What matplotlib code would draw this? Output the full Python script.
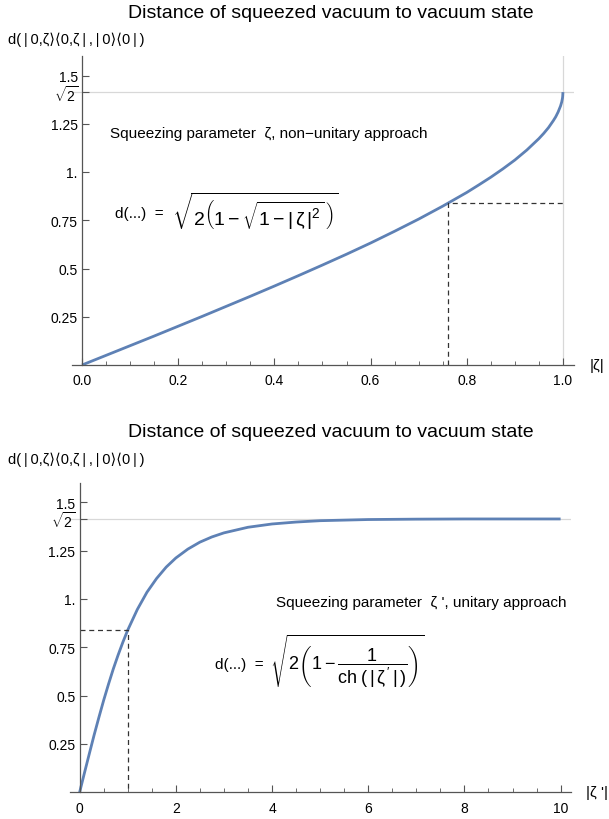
import matplotlib
matplotlib.use("Agg")
import matplotlib.pyplot as plt
from matplotlib.ticker import MultipleLocator

plt.rcParams["font.family"] = ["Liberation Sans", "DejaVu Sans"]
plt.rcParams["mathtext.fontset"] = "custom"
plt.rcParams["mathtext.rm"] = "Liberation Sans"
plt.rcParams["mathtext.it"] = "Liberation Sans"
plt.rcParams["mathtext.bf"] = "Liberation Sans:bold"

# top panel: non-unitary approach, |zeta| in [0, 1]
zeta = [0, 0.05, 0.1, 0.15, 0.2, 0.25, 0.3, 0.35, 0.4, 0.45, 0.5, 0.55, 0.6, 0.65,
        0.7, 0.75, 0.8, 0.825, 0.85, 0.875, 0.9, 0.925, 0.95, 0.96, 0.97, 0.98, 0.985,
        0.99, 0.995, 0.9975, 0.999, 0.9995, 1.0]
d_top = [0, 0.050, 0.100, 0.150, 0.201, 0.252, 0.304, 0.356, 0.409, 0.463, 0.518, 0.574, 0.632, 0.693,
         0.756, 0.823, 0.894, 0.933, 0.973, 1.016, 1.062, 1.114, 1.173, 1.200, 1.230, 1.266, 1.286,
         1.311, 1.342, 1.363, 1.382, 1.392, 1.414]
# bottom panel: unitary approach, |zeta'| in [0, 10]
zeta_p = [0, 0.1, 0.2, 0.3, 0.4, 0.5, 0.6, 0.7, 0.8, 0.9, 1.0, 1.2, 1.4, 1.6, 1.8, 2.0, 2.25, 2.5,
          2.75, 3.0, 3.5, 4.0, 4.5, 5.0, 5.5, 6, 7, 8, 9, 10]
d_bot = [0, 0.100, 0.198, 0.295, 0.387, 0.476, 0.559, 0.638, 0.710, 0.777, 0.839, 0.946, 1.035,
         1.106, 1.165, 1.212, 1.258, 1.294, 1.321, 1.342, 1.371, 1.388, 1.398, 1.405, 1.408,
         1.411, 1.413, 1.414, 1.414, 1.414]
# marked point (tanh 1 -> 1)
mark_top = (0.7616, 0.839)
mark_bot = (1.0, 0.839)

SQ2 = 2 ** 0.5
YT = [0.25, 0.5, 0.75, 1.0, 1.25, SQ2, 1.5]
YL = ["0.25", "0.5", "0.75", "1.", "1.25", r"$\sqrt{2}$", "1.5"]
BLUE = "#5e81b5"
AXC = "#555555"
TITLE = "Distance of squeezed vacuum to vacuum state"
t = "\u2009"
YLAB = f"d({t}|{t}0,ζ⟩⟨0,ζ{t}|{t},{t}|{t}0⟩⟨0{t}|{t})"

fig = plt.figure(figsize=(6.09, 8.20), dpi=100)
W, H = 609, 820

def setup(ax, xlim, major, minor, xlab, xfmt):
    ax.set_xlim(*xlim); ax.set_ylim(0, 1.6)
    for s in ("top", "right"):
        ax.spines[s].set_visible(False)
    ax.spines["left"].set_position(("data", 0))
    for s in ("left", "bottom"):
        ax.spines[s].set_color(AXC); ax.spines[s].set_linewidth(0.9)
    n = int(round(xlim[1] / major)) + 1
    ax.set_xticks([i * major for i in range(n)])
    ax.set_xticklabels([xfmt(i * major) for i in range(n)])
    ax.xaxis.set_minor_locator(MultipleLocator(minor))
    ax.set_yticks(YT); ax.set_yticklabels(YL)
    ax.tick_params(axis="x", which="major", direction="in", length=5, color=AXC, labelsize=10, pad=6)
    ax.tick_params(axis="x", which="minor", direction="in", length=3, color=AXC)
    ax.tick_params(axis="y", direction="in", length=5, color=AXC, labelsize=10, pad=3)
    ax.axhline(SQ2, color="#d8d8d8", lw=0.9, zorder=0)
    ax.annotate(xlab, xy=(1, 0), xycoords="axes fraction", xytext=(11, 0), textcoords="offset points",
                ha="left", va="center", fontsize=11)

# ---- top panel ----
ax1 = fig.add_axes([72.4 / W, 1 - 366 / H, 501.6 / W, 308.8 / H])
setup(ax1, (-0.02, 1.023), 0.2, 0.05, "|ζ|", lambda v: f"{v:.1f}")
ax1.axvline(1.0, color="#d8d8d8", lw=0.9, zorder=0)
ax1.plot(zeta, d_top, color=BLUE, lw=2.0, solid_capstyle="butt")
ax1.plot([mark_top[0], mark_top[0], 1.0], [0, mark_top[1], mark_top[1]], color="#333333",
         lw=0.9, ls=(0, (4, 3)))
ax1.text(0.058, 1.20, "Squeezing parameter  ζ, non\u2212unitary approach", fontsize=11, va="center")
ax1.text(0.068, 0.787, "d(...)  =", fontsize=11, va="center")
ax1.text(0.188, 0.80, r"$\sqrt{2\left(1-\sqrt{1-|\,\zeta\,|^{2}}\,\right)}$", fontsize=14, va="center")

# ---- bottom panel ----
ax2 = fig.add_axes([70 / W, 1 - 793.3 / H, 500.7 / W, 309.3 / H])
setup(ax2, (-0.2, 10.21), 2, 0.5, "|ζ '|", lambda v: f"{v:d}")
ax2.plot(zeta_p, d_bot, color=BLUE, lw=2.0, solid_capstyle="butt")
ax2.plot([0, mark_bot[0], mark_bot[0]], [mark_bot[1], mark_bot[1], 0], color="#333333",
         lw=0.9, ls=(0, (4, 3)))
ax2.text(4.09, 0.984, "Squeezing parameter  ζ ', unitary approach", fontsize=11, va="center")
ax2.text(2.81, 0.664, "d(...)  =", fontsize=11, va="center")
ax2.text(3.95, 0.68, r"$\sqrt{2\left(1-\dfrac{1}{\mathrm{ch}\;(\,|\,\zeta\,'\,|\,)}\right)}$",
         fontsize=13, va="center")

# titles and y labels
fig.text(331 / W, 1 - 14 / H, TITLE, ha="center", va="center", fontsize=14)
fig.text(8 / W, 1 - 40 / H, YLAB, ha="left", va="center", fontsize=10.5)
fig.text(331 / W, 1 - 433 / H, TITLE, ha="center", va="center", fontsize=14)
fig.text(8 / W, 1 - 460 / H, YLAB, ha="left", va="center", fontsize=10.5)

fig.savefig("out.png", dpi=100)
